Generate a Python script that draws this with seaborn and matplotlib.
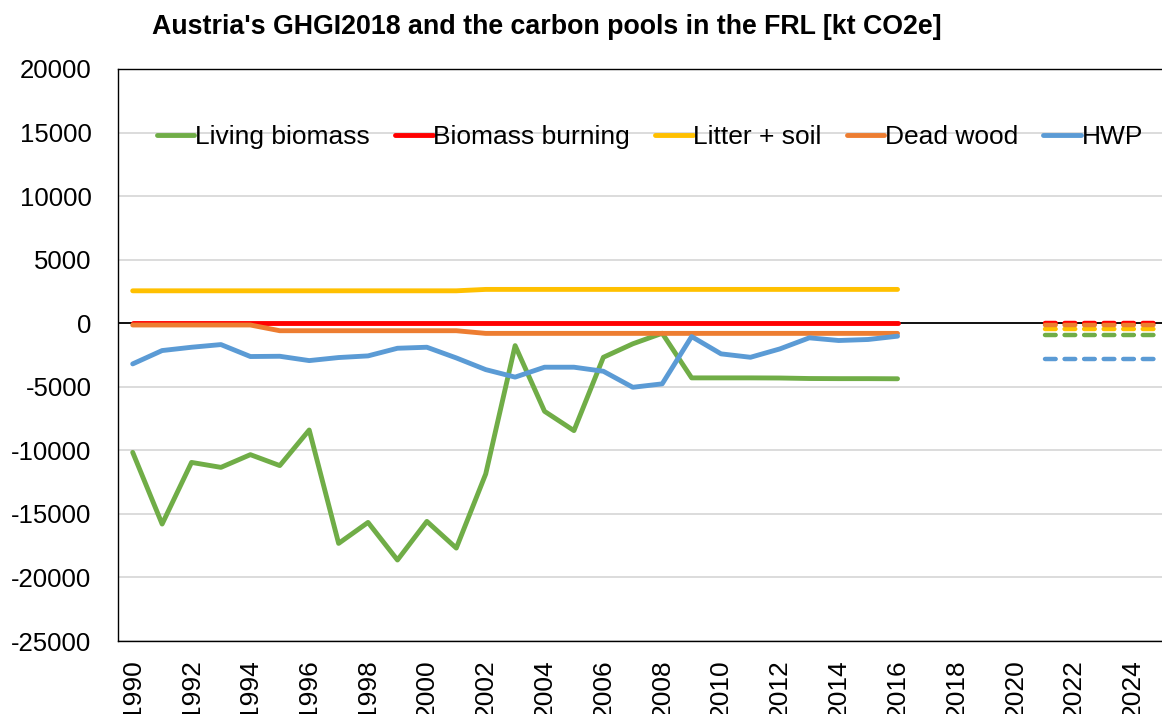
import numpy as np
import pandas as pd
import matplotlib
matplotlib.use("Agg")
import matplotlib.pyplot as plt
import seaborn as sns

# Reported GHGI2018 series, 1990-2016 [kt CO2e]
years = list(range(1990, 2017))
living_biomass = [-10160, -15800, -10950, -11340, -10340, -11200, -8400, -17320, -15670,
                  -18630, -15590, -17690, -11860, -1760, -6930, -8450, -2680, -1620, -790,
                  -4300, -4300, -4300, -4310, -4350, -4360, -4360, -4370]
biomass_burning = [-15] * 27
litter_soil = [2550] * 12 + [2660] * 15
dead_wood = [-140] * 5 + [-590] * 7 + [-800] * 15
hwp = [-3200, -2150, -1890, -1680, -2620, -2600, -2940, -2700, -2570, -1970, -1890,
       -2730, -3650, -4240, -3460, -3460, -3780, -5040, -4770, -1050, -2410, -2680,
       -2020, -1150, -1360, -1280, -1020]

# Forest reference level, 2021-2025
frl_years = list(range(2021, 2026))
frl_living_biomass = [-930] * 5
frl_biomass_burning = [0] * 5
frl_litter_soil = [-480] * 5
frl_dead_wood = [-140] * 5
frl_hwp = [-2850] * 5

pools = ["Living biomass", "Biomass burning", "Litter + soil", "Dead wood", "HWP"]
colors = ["#70AD47", "#FF0000", "#FFC000", "#ED7D31", "#5B9BD5"]
x_ticks = list(range(1990, 2026, 2))
y_ticks = list(range(-25000, 20001, 5000))

hist = pd.concat([
    pd.DataFrame({"year": years, "value": v, "pool": p})
    for p, v in zip(pools, [living_biomass, biomass_burning, litter_soil, dead_wood, hwp])
])
frl = pd.concat([
    pd.DataFrame({"year": frl_years, "value": v, "pool": p})
    for p, v in zip(pools, [frl_living_biomass, frl_biomass_burning, frl_litter_soil,
                            frl_dead_wood, frl_hwp])
])

sns.set_theme(style="white")
plt.rcParams["font.family"] = ["Liberation Sans", "DejaVu Sans"]
plt.rcParams["text.color"] = "black"
plt.rcParams["xtick.color"] = "black"
plt.rcParams["ytick.color"] = "black"

W, H = 1162, 714
fig = plt.figure(figsize=(W / 100, H / 100), dpi=100)
ax_l, ax_r, ax_t, ax_b = 118, 1177, 69, 641
ax = fig.add_axes([ax_l / W, 1 - ax_b / H, (ax_r - ax_l) / W, (ax_b - ax_t) / H])

palette = dict(zip(pools, colors))
sns.lineplot(data=hist, x="year", y="value", hue="pool", hue_order=pools,
             palette=palette, linewidth=3.5, ax=ax, zorder=3,
             solid_capstyle="round", solid_joinstyle="round")
sns.lineplot(data=frl, x="year", y="value", hue="pool", hue_order=pools,
             palette=palette, linewidth=3.2, ax=ax, zorder=3, legend=False,
             dashes=False, linestyle=(0, (2.4, 2.0)), dash_capstyle="round")

ax.axhline(0, color="black", linewidth=1.3, zorder=2)

ax.set_xlim(1989.5, 2025.5)
ax.set_ylim(-25000, 20000)
ax.set_xticks(x_ticks)
ax.set_xticklabels([str(t) for t in x_ticks], rotation=90, fontsize=19)
ax.set_yticks(y_ticks)
ax.set_yticklabels([str(t) for t in y_ticks], fontsize=18.5)
ax.tick_params(axis="both", length=0, colors="black")
ax.tick_params(axis="y", pad=19)
ax.tick_params(axis="x", pad=13)
ax.set_xlabel("")
ax.set_ylabel("")

ax.grid(axis="y", color="#D9D9D9", linewidth=1.3, zorder=0)
ax.grid(axis="x", visible=False)
ax.set_axisbelow(True)
for side in ["left", "top", "bottom", "right"]:
    ax.spines[side].set_color("black")
    ax.spines[side].set_linewidth(1.0)

leg = ax.legend(loc="center left", bbox_to_anchor=((157 - ax_l) / (ax_r - ax_l), (ax_b - 137) / (ax_b - ax_t)),
                ncol=5, frameon=False, fontsize=19, handlelength=1.42, handletextpad=0.03,
                columnspacing=0.95, borderpad=0, borderaxespad=0)
for line in leg.get_lines():
    line.set_linewidth(3.5)

fig.text(547 / W, 1 - 27 / H, "Austria's GHGI2018 and the carbon pools in the FRL [kt CO2e]",
         ha="center", va="center", fontsize=19.3, fontweight="bold")

fig.savefig("out.png", dpi=100)
